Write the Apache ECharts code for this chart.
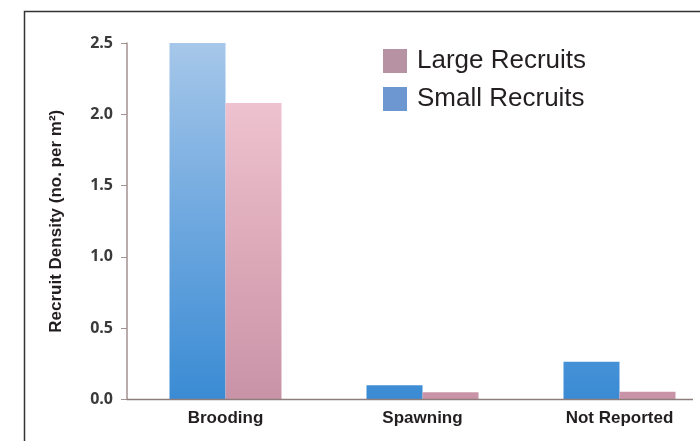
<!DOCTYPE html>
<html>
<head>
<meta charset="utf-8">
<script src="https://cdn.jsdelivr.net/npm/echarts@6/dist/echarts.min.js"></script>
<style>html,body{margin:0;padding:0;background:#fff;}#c{width:700px;height:441px;}</style>
</head>
<body>
<div id="c"></div>
<script>
const categories = ['Brooding', 'Spawning', 'Not Reported'];
const smallRecruits = [2.5, 0.10, 0.265];
const largeRecruits = [2.08, 0.05, 0.055];
const yTicks = [0, 0.5, 1.0, 1.5, 2.0, 2.5];
const seriesNames = ['Small Recruits', 'Large Recruits'];

const chart = echarts.init(document.getElementById('c'));
const blueGrad = new echarts.graphic.LinearGradient(0, 43, 0, 400, [
  {offset: 0, color: '#a6c7e9'},
  {offset: 0.5, color: '#6ea8df'},
  {offset: 1, color: '#3a8bd4'}
], true);
const pinkGrad = new echarts.graphic.LinearGradient(0, 43, 0, 400, [
  {offset: 0, color: '#f5ccd8'},
  {offset: 0.5, color: '#e0aebd'},
  {offset: 1, color: '#c993a7'}
], true);

chart.setOption({
  backgroundColor: '#ffffff',
  animation: false,
  grid: {left: 127, top: 43, width: 591, bottom: 41.5, containLabel: false, outerBoundsMode: 'none'},
  legend: {
    orient: 'vertical', left: 378, top: 43,
    itemWidth: 24, itemHeight: 24, itemGap: 12,
    icon: 'rect',
    textStyle: {fontFamily: 'Liberation Sans', fontSize: 26, lineHeight: 26, color: '#231f20', padding: [0, 0, 0, 5]},
    data: [
      {name: seriesNames[1], itemStyle: {color: '#b792a3'}},
      {name: seriesNames[0], itemStyle: {color: '#6d97d0'}}
    ]
  },
  xAxis: {
    type: 'category', data: categories,
    axisLine: {show: false},
    axisTick: {show: false},
    axisLabel: {margin: 10, fontFamily: 'Liberation Sans', fontWeight: 'bold', fontSize: 17, color: '#231f20'}
  },
  yAxis: {
    type: 'value', min: yTicks[0], max: yTicks[yTicks.length - 1], interval: 0.5,
    name: 'Recruit Density (no. per m²)', nameLocation: 'middle', nameGap: 62, nameRotate: 90,
    nameTextStyle: {fontFamily: 'Liberation Sans', fontWeight: 'bold', fontSize: 17, color: '#231f20'},
    axisLine: {show: true, lineStyle: {color: '#a3918f', width: 1.5}},
    axisTick: {show: true, length: 6, lineStyle: {color: '#a3918f'}},
    splitLine: {show: false},
    axisLabel: {margin: 14, fontFamily: 'Open Sans', fontWeight: 'bold', fontSize: 16, color: '#3a3a3a',
      formatter: v => v.toFixed(1)}
  },
  series: [
    {name: seriesNames[0], type: 'bar', data: smallRecruits, barWidth: 56, barGap: '0%',
     itemStyle: {color: blueGrad}},
    {name: seriesNames[1], type: 'bar', data: largeRecruits, barWidth: 56, barGap: '0%',
     itemStyle: {color: pinkGrad}}
  ],
  graphic: [
    {type: 'line', shape: {x1: 127, y1: 399.5, x2: 693, y2: 399.5}, style: {stroke: '#8e7d7d', lineWidth: 1.5}, z: 10},
    {type: 'rect', shape: {x: 24.5, y: 11.5, width: 700, height: 450}, style: {fill: 'none', stroke: '#333', lineWidth: 1.5}, silent: true}
  ]
});
</script>
</body>
</html>
